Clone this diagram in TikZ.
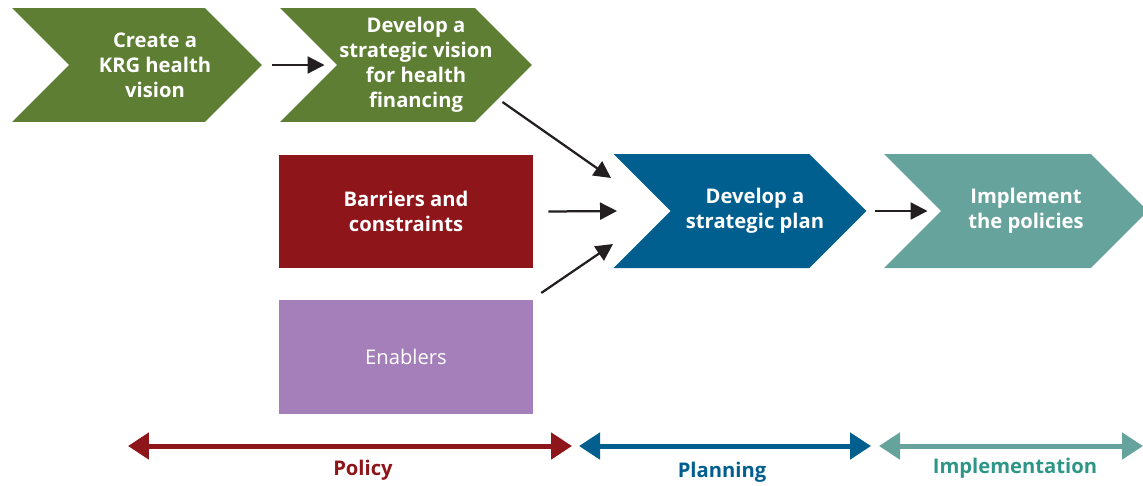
\documentclass[tikz,border=0pt]{standalone}
\usepackage{fontspec}
\setmainfont{Open Sans}
\usetikzlibrary{shapes.symbols,arrows.meta}

\definecolor{kgreen}{RGB}{94,126,51}
\definecolor{kred}{RGB}{142,21,25}
\definecolor{kblue}{RGB}{0,95,142}
\definecolor{kteal}{RGB}{103,163,157}
\definecolor{kteallabel}{RGB}{46,150,134}
\definecolor{kpurple}{RGB}{165,127,185}
\definecolor{karrow}{RGB}{35,31,32}

\tikzset{
    chev/.style={signal, signal from=west, signal to=east, signal pointer angle=90,
        minimum height=2.28cm, inner sep=0pt, draw=none},
    chevtext/.style={text=white, font=\bfseries\fontsize{11.5}{14.2}\selectfont, align=center},
    block/.style={minimum width=5.08cm, minimum height=2.27cm, inner sep=0pt,
        text=white, align=center, font=\fontsize{11.5}{14.2}\selectfont},
    link/.style={draw=karrow, line width=0.045cm, -{Triangle[length=0.34cm,width=0.34cm]}},
    span/.style={line width=0.1cm, {Triangle[length=0.42cm,width=0.52cm]}-{Triangle[length=0.42cm,width=0.52cm]}},
    spantext/.style={font=\bfseries\fontsize{11.5}{14.2}\selectfont}
}

\begin{document}
\begin{tikzpicture}[x=0.02cm, y=-0.02cm]
    \useasboundingbox (0,0) rectangle (1143,485);

    % chevrons
    \node[chev, fill=kgreen, minimum width=5cm,
        label={[chevtext, xshift=0.36cm]center:Create a\\KRG health\\vision}] (vision) at (137,65) {};
    \node[chev, fill=kgreen, minimum width=5.04cm,
        label={[chevtext, xshift=0.2cm]center:Develop a\\strategic vision\\for health\\financing}] (strat) at (406,65) {};
    \node[chev, fill=kblue, minimum width=5.06cm,
        label={[chevtext, xshift=0.3cm]center:Develop a\\strategic plan}] (plan) at (740,211) {};
    \node[chev, fill=kteal, minimum width=5.28cm,
        label={[chevtext, xshift=0.2cm]center:Implement\\the policies}] (impl) at (1016,211) {};

    % boxes
    \node[block, fill=kred, font=\bfseries\fontsize{11.5}{14.2}\selectfont] (barrier) at (406,211.5) {Barriers and\\constraints};
    \node[block, fill=kpurple] (enabler) at (406,357) {Enablers};

    % arrows
    \draw[link] ([xshift=0.2cm]vision.east) -- ([xshift=-0.24cm]strat.west);
    \draw[link] ([shift={(-30,37)}]strat.east) -- ([shift={(-59,-33)}]plan.west);
    \draw[link] ([xshift=0.3cm]barrier.east) -- ([xshift=-1.06cm]plan.west);
    \draw[link] ([shift={(8,-7)}]enabler.north east) -- ([shift={(-57,33)}]plan.west);
    \draw[link] ([xshift=0.16cm]plan.east) -- ([xshift=-0.26cm]impl.west);

    % phases
    \coordinate (pol-l) at (128,446);
    \coordinate (pol-r) at (572,446);
    \coordinate (pla-l) at (579,446);
    \coordinate (pla-r) at (871,446);
    \coordinate (imp-l) at (879,446);
    \coordinate (imp-r) at (1143,446);
    \draw[span, kred] (pol-l) -- (pol-r);
    \draw[span, kblue] (pla-l) -- (pla-r);
    \draw[span, kteal] (imp-l) -- (imp-r);

    \node[spantext, text=kred] (policy) at (363,470) {Policy};
    \node[spantext, text=kblue] (planning) at (722,472) {Planning};
    \node[spantext, text=kteallabel] (implementation) at (1015,468) {Implementation};
\end{tikzpicture}
\end{document}
